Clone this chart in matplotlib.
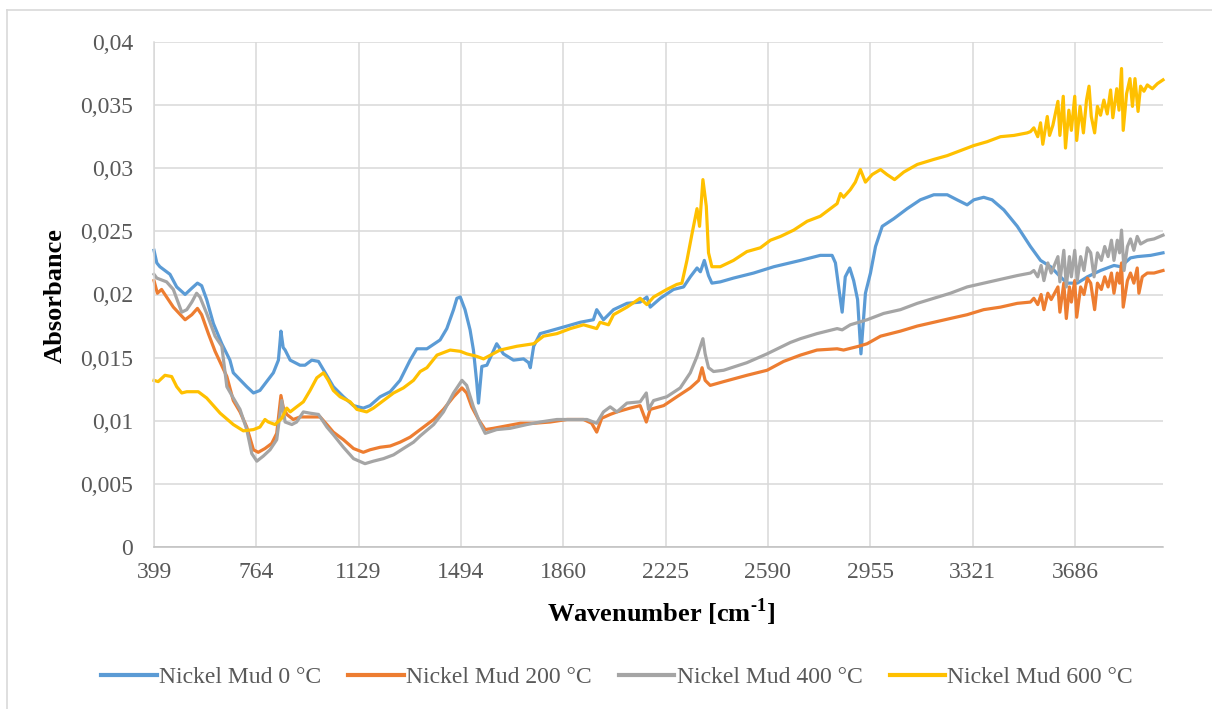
import matplotlib
matplotlib.use("Agg")
import matplotlib.pyplot as plt
from matplotlib.lines import Line2D

plt.rcParams['font.family'] = ['Liberation Serif', 'DejaVu Serif']
plt.rcParams['mathtext.fontset'] = 'custom'
plt.rcParams['mathtext.rm'] = 'Liberation Serif'
plt.rcParams['mathtext.bf'] = 'Liberation Serif:bold'

# ---------------- data ----------------
labels = ["Nickel Mud 0 °C", "Nickel Mud 200 °C", "Nickel Mud 400 °C", "Nickel Mud 600 °C"]
colors = ["#5B9BD5", "#ED7D31", "#A5A5A5", "#FFC000"]

x_ticks = [399, 764, 1129, 1494, 1860, 2225, 2590, 2955, 3321, 3686]
y_ticks = [0, 0.005, 0.01, 0.015, 0.02, 0.025, 0.03, 0.035, 0.04]
y_tick_labels = ["0", "0,005", "0,01", "0,015", "0,02", "0,025", "0,03", "0,035", "0,04"]

wn_0 = [399, 409, 420, 456, 480, 510, 534, 554, 569, 587, 611, 641, 670, 682, 730, 754, 777, 801,
        825, 843, 849, 852, 860, 867, 885, 920, 938, 962, 986, 1010, 1039, 1075, 1111, 1146, 1170,
        1206, 1242, 1277, 1313, 1337, 1373, 1420, 1444, 1468, 1480, 1492, 1509, 1527, 1539, 1551,
        1557, 1569, 1587, 1622, 1646, 1682, 1718, 1736, 1742, 1754, 1777, 1825, 1873, 1920, 1967,
        1979, 1991, 2003, 2039, 2087, 2134, 2158, 2170, 2206, 2253, 2289, 2313, 2337, 2349, 2363,
        2378, 2390, 2420, 2467, 2539, 2611, 2706, 2777, 2819, 2831, 2843, 2855, 2866, 2882, 2896,
        2910, 2922, 2938, 2956, 2974, 2998, 3039, 3087, 3134, 3182, 3230, 3265, 3301, 3325, 3360,
        3390, 3432, 3480, 3527, 3563, 3599, 3634, 3658, 3694, 3730, 3777, 3825, 3849, 3884, 3908,
        3956, 4000]
ab_0 = [0.0235, 0.0225, 0.0222, 0.0216, 0.0206, 0.0200, 0.0205, 0.0209, 0.0207, 0.0196, 0.0177,
        0.0161, 0.0148, 0.0138, 0.0127, 0.0122, 0.0124, 0.0131, 0.0138, 0.0148, 0.0163, 0.0171,
        0.0158, 0.0156, 0.0148, 0.0144, 0.0144, 0.0148, 0.0147, 0.0138, 0.0127, 0.0119, 0.0112,
        0.0110, 0.0112, 0.0119, 0.0123, 0.0132, 0.0148, 0.0157, 0.0157, 0.0164, 0.0173, 0.0188,
        0.0197, 0.0198, 0.0188, 0.0172, 0.0156, 0.0130, 0.0114, 0.0143, 0.0144, 0.0161, 0.0153,
        0.0148, 0.0149, 0.0146, 0.0142, 0.0159, 0.0169, 0.0172, 0.0175, 0.0178, 0.0180, 0.0188,
        0.0184, 0.0180, 0.0188, 0.0193, 0.0194, 0.0198, 0.0190, 0.0197, 0.0204, 0.0206, 0.0214,
        0.0221, 0.0218, 0.0227, 0.0215, 0.0209, 0.0210, 0.0213, 0.0217, 0.0222, 0.0227, 0.0231,
        0.0231, 0.0225, 0.0205, 0.0186, 0.0214, 0.0221, 0.0211, 0.0196, 0.0153, 0.0201, 0.0217,
        0.0238, 0.0254, 0.0260, 0.0268, 0.0275, 0.0279, 0.0279, 0.0275, 0.0271, 0.0275, 0.0277,
        0.0275, 0.0267, 0.0254, 0.0238, 0.0227, 0.0222, 0.0214, 0.0209, 0.0209, 0.0214, 0.0219,
        0.0223, 0.0222, 0.0229, 0.0230, 0.0231, 0.0233]

wn_200 = [399, 411, 426, 468, 510, 534, 554, 569, 593, 617, 659, 682, 706, 730, 754, 771, 795, 819,
          837, 852, 860, 873, 896, 920, 938, 968, 992, 1016, 1039, 1075, 1111, 1146, 1170, 1206,
          1242, 1277, 1313, 1349, 1397, 1432, 1468, 1498, 1515, 1533, 1557, 1581, 1610, 1658, 1706,
          1754, 1813, 1873, 1932, 1961, 1979, 1997, 2027, 2051, 2098, 2134, 2156, 2170, 2218, 2265,
          2313, 2343, 2355, 2366, 2384, 2432, 2515, 2587, 2646, 2706, 2765, 2837, 2860, 2914, 2944,
          2992, 3063, 3123, 3182, 3241, 3301, 3360, 3420, 3480, 3527, 3539, 3553, 3565, 3575, 3589,
          3601, 3625, 3632, 3646, 3655, 3666, 3673, 3685, 3692, 3706, 3718, 3730, 3742, 3756, 3766,
          3780, 3792, 3804, 3816, 3825, 3837, 3845, 3852, 3858, 3873, 3884, 3896, 3908, 3914, 3926,
          3944, 3968, 4000]
ab_200 = [0.0211, 0.0201, 0.0204, 0.0190, 0.0180, 0.0184, 0.0189, 0.0184, 0.0169, 0.0155, 0.0135,
          0.0116, 0.0107, 0.0095, 0.0077, 0.0075, 0.0078, 0.0082, 0.0090, 0.0120, 0.0111, 0.0105,
          0.0101, 0.0103, 0.0103, 0.0103, 0.0103, 0.0097, 0.0091, 0.0085, 0.0078, 0.0075, 0.0077,
          0.0079, 0.0080, 0.0083, 0.0087, 0.0093, 0.0101, 0.0109, 0.0119, 0.0126, 0.0122, 0.0111,
          0.0101, 0.0093, 0.0094, 0.0096, 0.0098, 0.0098, 0.0099, 0.0101, 0.0101, 0.0098, 0.0091,
          0.0102, 0.0105, 0.0107, 0.0110, 0.0112, 0.0099, 0.0109, 0.0112, 0.0119, 0.0126, 0.0132,
          0.0142, 0.0132, 0.0128, 0.0131, 0.0136, 0.0140, 0.0147, 0.0152, 0.0156, 0.0157, 0.0156,
          0.0159, 0.0161, 0.0167, 0.0171, 0.0175, 0.0178, 0.0181, 0.0184, 0.0188, 0.0190, 0.0193,
          0.0194, 0.0197, 0.0192, 0.0200, 0.0188, 0.0201, 0.0196, 0.0206, 0.0186, 0.0209, 0.0181,
          0.0206, 0.0194, 0.0211, 0.0182, 0.0206, 0.0200, 0.0213, 0.0209, 0.0188, 0.0209, 0.0204,
          0.0214, 0.0206, 0.0217, 0.0201, 0.0217, 0.0209, 0.0225, 0.0190, 0.0211, 0.0217, 0.0209,
          0.0221, 0.0201, 0.0214, 0.0217, 0.0217, 0.0219]

wn_400 = [399, 409, 444, 468, 498, 516, 534, 551, 563, 587, 617, 641, 659, 682, 706, 730, 748, 766,
          789, 813, 837, 855, 867, 891, 908, 932, 956, 986, 1016, 1039, 1075, 1111, 1152, 1182, 1218,
          1254, 1289, 1325, 1349, 1397, 1432, 1468, 1498, 1515, 1539, 1563, 1581, 1622, 1670, 1730,
          1777, 1837, 1897, 1944, 1979, 2003, 2027, 2051, 2087, 2134, 2156, 2164, 2182, 2229, 2277,
          2313, 2337, 2349, 2358, 2366, 2378, 2396, 2432, 2515, 2587, 2670, 2706, 2765, 2837, 2855,
          2884, 2914, 2944, 3003, 3063, 3123, 3182, 3241, 3301, 3360, 3420, 3480, 3527, 3539, 3553,
          3565, 3575, 3589, 3601, 3625, 3632, 3646, 3655, 3666, 3673, 3685, 3694, 3706, 3718, 3730,
          3742, 3754, 3766, 3780, 3792, 3804, 3816, 3825, 3837, 3845, 3852, 3861, 3873, 3884, 3896,
          3908, 3920, 3944, 3968, 4000]
ab_400 = [0.0216, 0.0213, 0.0210, 0.0204, 0.0186, 0.0188, 0.0194, 0.0201, 0.0198, 0.0185, 0.0167,
          0.0159, 0.0127, 0.0118, 0.0109, 0.0093, 0.0074, 0.0068, 0.0072, 0.0077, 0.0085, 0.0116,
          0.0099, 0.0097, 0.0099, 0.0107, 0.0106, 0.0105, 0.0095, 0.0089, 0.0079, 0.0070, 0.0066,
          0.0068, 0.0070, 0.0073, 0.0078, 0.0083, 0.0088, 0.0097, 0.0107, 0.0122, 0.0132, 0.0128,
          0.0111, 0.0098, 0.0090, 0.0093, 0.0094, 0.0097, 0.0099, 0.0101, 0.0101, 0.0101, 0.0098,
          0.0107, 0.0111, 0.0107, 0.0114, 0.0115, 0.0122, 0.0109, 0.0116, 0.0119, 0.0126, 0.0138,
          0.0151, 0.0159, 0.0165, 0.0153, 0.0142, 0.0139, 0.0140, 0.0146, 0.0153, 0.0162, 0.0165,
          0.0169, 0.0173, 0.0172, 0.0176, 0.0178, 0.0180, 0.0185, 0.0188, 0.0193, 0.0197, 0.0201,
          0.0206, 0.0209, 0.0212, 0.0215, 0.0217, 0.0219, 0.0214, 0.0223, 0.0211, 0.0225, 0.0217,
          0.0230, 0.0210, 0.0235, 0.0206, 0.0230, 0.0214, 0.0235, 0.0211, 0.0230, 0.0219, 0.0237,
          0.0233, 0.0214, 0.0233, 0.0227, 0.0238, 0.0230, 0.0243, 0.0227, 0.0243, 0.0233, 0.0251,
          0.0219, 0.0238, 0.0244, 0.0235, 0.0246, 0.0240, 0.0243, 0.0244, 0.0247]

wn_600 = [399, 414, 438, 462, 480, 498, 516, 557, 587, 635, 682, 718, 754, 777, 795, 807, 831, 855,
          873, 885, 908, 932, 956, 980, 1004, 1021, 1039, 1063, 1099, 1123, 1158, 1182, 1218, 1254,
          1289, 1325, 1349, 1373, 1409, 1456, 1492, 1515, 1551, 1575, 1634, 1694, 1754, 1789, 1837,
          1885, 1932, 1979, 1991, 2021, 2039, 2087, 2134, 2158, 2182, 2229, 2265, 2283, 2301, 2319,
          2337, 2346, 2358, 2370, 2378, 2390, 2420, 2467, 2515, 2563, 2599, 2635, 2682, 2730, 2777,
          2801, 2837, 2849, 2860, 2884, 2902, 2920, 2938, 2962, 2992, 3015, 3042, 3075, 3123, 3182,
          3230, 3277, 3325, 3372, 3420, 3468, 3515, 3527, 3539, 3553, 3563, 3571, 3587, 3595, 3607,
          3625, 3632, 3644, 3652, 3664, 3673, 3685, 3692, 3704, 3716, 3727, 3736, 3744, 3756, 3766,
          3777, 3789, 3801, 3813, 3821, 3835, 3843, 3852, 3858, 3870, 3882, 3891, 3900, 3911, 3920,
          3932, 3944, 3962, 3980, 4000]
ab_600 = [0.0132, 0.0131, 0.0136, 0.0135, 0.0127, 0.0122, 0.0123, 0.0123, 0.0118, 0.0106, 0.0097,
          0.0092, 0.0093, 0.0095, 0.0101, 0.0099, 0.0097, 0.0102, 0.0110, 0.0107, 0.0111, 0.0115,
          0.0124, 0.0134, 0.0138, 0.0132, 0.0124, 0.0119, 0.0115, 0.0109, 0.0107, 0.0110, 0.0116,
          0.0122, 0.0126, 0.0132, 0.0139, 0.0142, 0.0152, 0.0156, 0.0155, 0.0153, 0.0151, 0.0149,
          0.0156, 0.0159, 0.0161, 0.0167, 0.0169, 0.0173, 0.0176, 0.0173, 0.0178, 0.0176, 0.0184,
          0.0190, 0.0197, 0.0192, 0.0198, 0.0204, 0.0208, 0.0209, 0.0227, 0.0248, 0.0268, 0.0254,
          0.0291, 0.0270, 0.0233, 0.0222, 0.0222, 0.0227, 0.0234, 0.0237, 0.0243, 0.0246, 0.0251,
          0.0258, 0.0262, 0.0266, 0.0272, 0.0280, 0.0277, 0.0283, 0.0289, 0.0299, 0.0289, 0.0295,
          0.0299, 0.0295, 0.0291, 0.0297, 0.0303, 0.0307, 0.0310, 0.0314, 0.0318, 0.0321, 0.0325,
          0.0326, 0.0328, 0.0329, 0.0332, 0.0325, 0.0336, 0.0319, 0.0341, 0.0326, 0.0334, 0.0353,
          0.0326, 0.0357, 0.0316, 0.0346, 0.0330, 0.0357, 0.0322, 0.0349, 0.0328, 0.0354, 0.0365,
          0.0341, 0.0328, 0.0349, 0.0342, 0.0354, 0.0343, 0.0362, 0.0340, 0.0363, 0.0346, 0.0379,
          0.0330, 0.0359, 0.0371, 0.0349, 0.0371, 0.0345, 0.0365, 0.0361, 0.0366, 0.0363, 0.0367,
          0.0370]

series_x = [wn_0, wn_200, wn_400, wn_600]
series_y = [ab_0, ab_200, ab_400, ab_600]

# ---------------- figure ----------------
W, H = 1212, 709
fig = plt.figure(figsize=(W / 100, H / 100), dpi=100)
ax = fig.add_axes([154 / W, 1 - 547 / H, (1163 - 154) / W, (547 - 42) / H])

for xs, ys, c, lab in zip(series_x, series_y, colors, labels):
    ax.plot(xs, ys, color=c, lw=2.3, label=lab, solid_joinstyle='round', clip_on=False)

ax.set_xlim(399, 4000)
ax.set_ylim(0, 0.04)
ax.set_xticks(x_ticks)
ax.set_xticklabels([str(t) for t in x_ticks])
ax.set_yticks(y_ticks)
ax.set_yticklabels(y_tick_labels)
ax.tick_params(axis='both', length=0, labelsize=17, labelcolor='#595959')
ax.tick_params(axis='x', pad=11)
ax.tick_params(axis='y', pad=15)
ax.grid(True, color='#D9D9D9', lw=1.1)
ax.set_axisbelow(True)
for s in ['top', 'right']:
    ax.spines[s].set_visible(False)
ax.spines['left'].set_color('#D9D9D9')
ax.spines['left'].set_linewidth(1.1)
ax.spines['bottom'].set_color('#BFBFBF')
ax.spines['bottom'].set_linewidth(1.1)

fig.text(661 / W, 1 - 612 / H, 'Wavenumber [cm$^{\\mathbf{\u2010}\\mathbf{1}}$]', ha='center', va='center',
         fontsize=19, fontweight='bold', color='black')
fig.text(55 / W, 1 - 296 / H, 'Absorbance', ha='center', va='center', rotation=90,
         fontsize=19, fontweight='bold', color='black')

leg = fig.legend(loc='center', bbox_to_anchor=(617 / W, 1 - 677 / H), ncol=4, frameon=False,
                 fontsize=17, handlelength=2.35, handletextpad=0.1, columnspacing=1.15)
for t in leg.get_texts():
    t.set_color('#595959')
for h in leg.get_lines():
    h.set_linewidth(3)

# outer chart border
fig.add_artist(Line2D([7 / W, 7 / W], [0, 1 - 10 / H], transform=fig.transFigure, color='#D9D9D9', lw=1.2))
fig.add_artist(Line2D([7 / W, 1], [1 - 10 / H, 1 - 10 / H], transform=fig.transFigure, color='#D9D9D9', lw=1.2))

fig.savefig('out.png', dpi=100, facecolor='white')
